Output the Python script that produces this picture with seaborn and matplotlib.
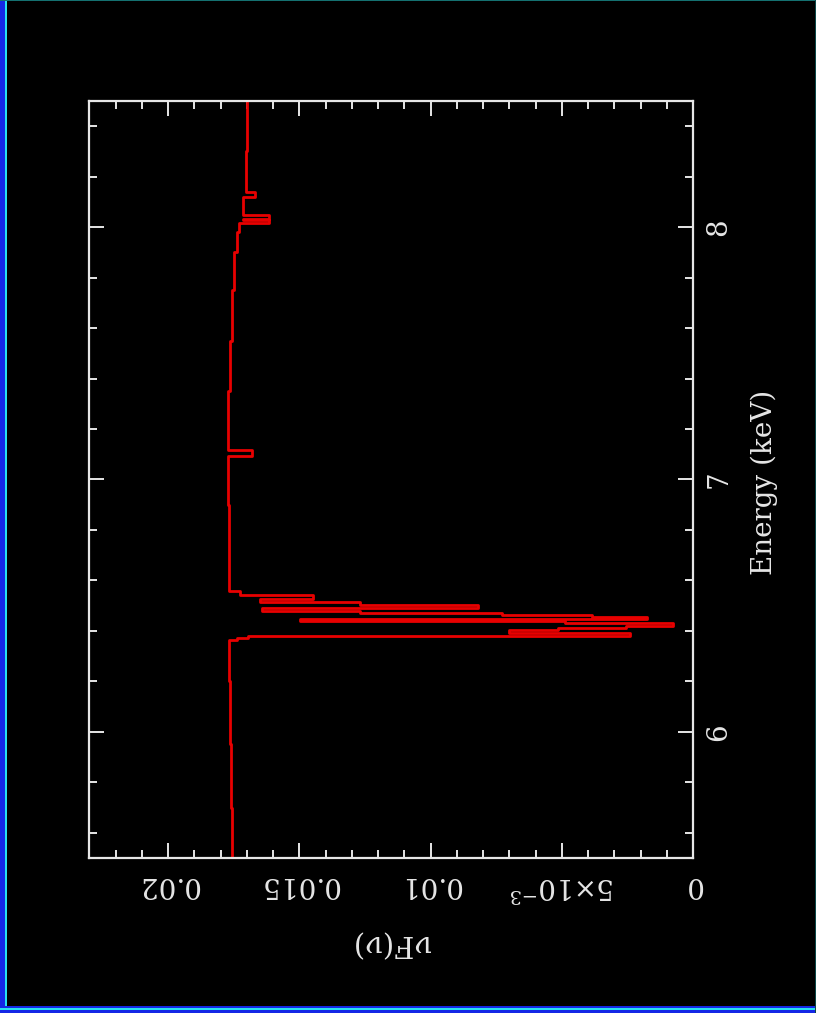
import matplotlib
matplotlib.use("Agg")
import matplotlib.pyplot as plt
from matplotlib.patches import Rectangle
from matplotlib.ticker import MultipleLocator
import seaborn as sns
import pandas as pd

# ---- data ----
energy_edges = [5.50, 5.70, 5.95, 6.20, 6.365, 6.373, 6.381, 6.391, 6.403, 6.413,
                6.421, 6.431, 6.441, 6.448, 6.456, 6.464, 6.472, 6.480, 6.490, 6.502,
                6.514, 6.526, 6.544, 6.560, 6.90, 7.095, 7.115, 7.35, 7.55, 7.75,
                7.90, 7.98, 8.016, 8.030, 8.033, 8.048, 8.119, 8.139, 8.30, 8.50]
nuFnu = [0.01756, 0.01760, 0.01764, 0.01767,
         0.01737, 0.01695, 0.00240, 0.00701, 0.00514, 0.00255, 0.00076, 0.00488,
         0.01497, 0.00175, 0.00385, 0.00728, 0.01269, 0.01642, 0.00819, 0.01269,
         0.01650, 0.01448, 0.01726,
         0.01768, 0.01771, 0.01680, 0.01770, 0.01764, 0.01756, 0.01749, 0.01737, 0.01730,
         0.01615, 0.01714, 0.01615, 0.01714, 0.01669, 0.01704, 0.01699]
energy_ticks = [6, 7, 8]
energy_ticklabels = ["6", "7", "8"]
flux_ticks = [0, 0.005, 0.01, 0.015, 0.02]
flux_ticklabels = ["0", r"$5{\times}10^{-3}$", "0.01", "0.015", "0.02"]

df = pd.DataFrame({"energy": energy_edges, "flux": nuFnu + [nuFnu[-1]]})

# ---- style ----
sns.set_style("ticks", rc={"axes.facecolor": "black", "figure.facecolor": "black"})
plt.rcParams["font.family"] = ["DejaVu Serif", "DejaVu Sans"]
plt.rcParams["mathtext.fontset"] = "dejavuserif"
fg = "#e6e6e6"

fig = plt.figure(figsize=(8.16, 10.13), dpi=100, facecolor="black")
W, H = 816, 1013
ax = fig.add_axes([89 / W, 1 - 858 / H, (693 - 89) / W, (858 - 101) / H])
ax.set_facecolor("black")

sns.lineplot(data=df, x="flux", y="energy", sort=False, estimator=None,
             drawstyle="steps-pre", color="#e80000", linewidth=2.0, ax=ax)

ax.set_xlim(0.02301, 0.0)
ax.set_ylim(5.5, 8.5)

for s in ax.spines.values():
    s.set_color(fg)
    s.set_linewidth(1.6)

ax.set_xticks(flux_ticks, flux_ticklabels)
ax.set_yticks(energy_ticks, energy_ticklabels)
ax.xaxis.set_minor_locator(MultipleLocator(0.001))
ax.yaxis.set_minor_locator(MultipleLocator(0.2))
ax.tick_params(which="both", direction="in", top=True, bottom=True, left=True, right=True,
               colors=fg, width=1.4)
ax.tick_params(which="major", length=11)
ax.tick_params(which="minor", length=6)
ax.tick_params(axis="x", which="major", labelsize=20, labelrotation=180, pad=9,
               labelcolor=fg)
ax.tick_params(axis="y", which="major", labelsize=20, labelrotation=90, pad=9,
               labelleft=False, labelright=True, labelcolor=fg)
for lab in ax.get_yticklabels():
    lab.set_va("center")
    lab.set_ha("left")

ax.set_xlabel("νF(ν)", fontsize=21, color=fg, rotation=180, ha="center", va="center")
ax.xaxis.set_label_coords(0.5, -(943 - 858) / 757)
ax.set_ylabel("Energy (keV)", fontsize=20, color=fg, rotation=90, ha="center", va="center")
ax.yaxis.set_label_position("right")
ax.yaxis.set_label_coords((751 - 89) / 604, (858 - 482) / 757)

# ---- window border decoration ----
fig.patches.append(Rectangle((0, 0), 6 / W, 1, transform=fig.transFigure,
                             facecolor="#1428e6", edgecolor="none"))
fig.patches.append(Rectangle((5 / W, 0), 2 / W, 1, transform=fig.transFigure,
                             facecolor="#28e0f0", edgecolor="none"))
fig.patches.append(Rectangle((0, 0), 1, 7 / H, transform=fig.transFigure,
                             facecolor="#1428e6", edgecolor="none"))
fig.patches.append(Rectangle((0, 3 / H), 1, 2 / H, transform=fig.transFigure,
                             facecolor="#28e0f0", edgecolor="none"))
fig.patches.append(Rectangle((0, 1 - 1.5 / H), 1, 1.5 / H, transform=fig.transFigure,
                             facecolor="#147070", edgecolor="none"))
fig.patches.append(Rectangle((1 - 1.5 / W, 0), 1.5 / W, 1, transform=fig.transFigure,
                             facecolor="#0c4848", edgecolor="none"))

fig.savefig("out.png", dpi=100, facecolor="black")
